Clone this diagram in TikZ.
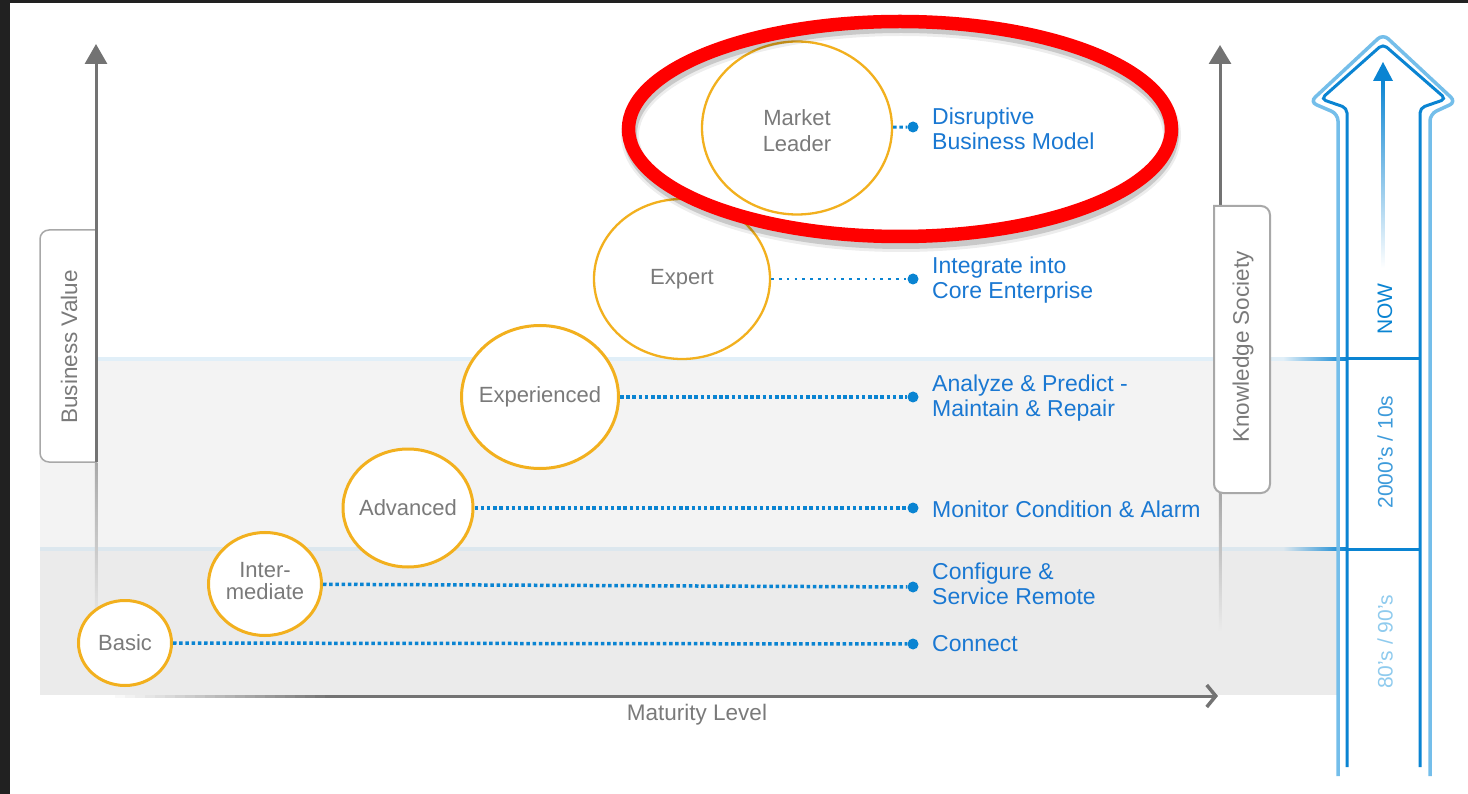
\documentclass[tikz,border=0pt]{standalone}
\usepackage{fontspec}
\setmainfont{Liberation Sans}
\usetikzlibrary{shapes.geometric,arrows.meta}
\definecolor{framec}{HTML}{212121}
\definecolor{axisgray}{HTML}{737373}
\definecolor{txtgray}{HTML}{7A7A7A}
\definecolor{boxgray}{HTML}{A8A8A8}
\definecolor{bandA}{HTML}{F3F3F3}
\definecolor{bandB}{HTML}{EBEBEB}
\definecolor{palebl}{HTML}{E1EFF8}
\definecolor{palegr}{HTML}{DCE7EE}
\definecolor{dkblue}{HTML}{0A84D2}
\definecolor{ltblue}{HTML}{74BEEA}
\definecolor{midblue}{HTML}{3D9BDB}
\definecolor{faintblue}{HTML}{8FCBEE}
\definecolor{lblblue}{HTML}{1A78D2}
\definecolor{orng}{HTML}{F2B01E}
\definecolor{redring}{HTML}{FF0000}
\begin{document}
\begin{tikzpicture}[x=1pt,y=-1pt,
  lvl/.style={ellipse,draw=orng,fill=white,line width=3pt,inner sep=0pt},
  lvltxt/.style={text=txtgray,font=\fontsize{22}{21.5}\selectfont,align=center,inner sep=0pt},
  lbl/.style={anchor=west,text=lblblue,font=\fontsize{23}{25}\selectfont,align=left,inner sep=0pt},
  enddot/.style={circle,fill=dkblue,inner sep=0pt,minimum size=11pt},
  dotline/.style={draw=dkblue,line width=3.5pt,dash pattern=on 3.5pt off 2.7pt},
  sparse/.style={draw=dkblue,line width=2.6pt,dash pattern=on 2.6pt off 5.2pt},
  grtxt/.style={text=txtgray,font=\fontsize{22.5}{25}\selectfont},
  arrtxt/.style={rotate=90,font=\fontsize{21}{21}\selectfont}]
\useasboundingbox (0,0) rectangle (1468,794);
\fill[white] (0,0) rectangle (1468,794);
% frame
\fill[framec] (0,0) rectangle (10,794);
\fill[framec] (0,0) rectangle (1468,3);
% bands
\fill[bandA] (40,360) rectangle (1337,548);
\fill[bandB] (40,548) rectangle (1337,695);
\draw[palebl,line width=3.5pt] (40,359) -- (1283,359);
\draw[palegr,line width=3.5pt] (40,549) -- (1283,549);
\shade[left color=palebl,right color=dkblue] (1283,357.2) rectangle (1347,360.8);
\shade[left color=palegr,right color=dkblue] (1283,547.2) rectangle (1347,550.8);
% left axis and box
\coordinate (bvtip) at (96,44);
\coordinate (bvtop) at (96,230);
\shade[top color=boxgray,bottom color=bandB] (94.8,462) rectangle (97.4,632);
\filldraw[fill=white,draw=boxgray,line width=1.5pt,rounded corners=9pt] (96,230) -- (40,230) -- (40,462) -- (96,462);
\draw[axisgray,line width=3pt] (96,462) -- (bvtop);
\draw[axisgray,line width=3pt,-{Triangle[length=20pt,width=22pt]}] (bvtop) -- (bvtip);
\node[grtxt,rotate=90] (bv) at (69,347) {Business Value};
% right axis and box
\coordinate (kstip) at (1220,45);
\coordinate (kstop) at (1220,206);
\shade[top color=boxgray,bottom color=bandB] (1218.8,493) rectangle (1221.4,632);
\draw[axisgray,line width=3pt,-{Triangle[length=19pt,width=22pt]}] (kstop) -- (kstip);
\filldraw[fill=white,draw=boxgray,line width=2pt,rounded corners=9pt] (1214,206) -- (1270,206) -- (1270,493) -- (1214,493) [sharp corners] -- cycle;
\node[grtxt,rotate=90] (ks) at (1243,347) {Knowledge Society};
% bottom axis
\coordinate (mlstart) at (330,696);
\coordinate (mltip) at (1218,696);
\foreach \i in {0,...,22} {
  \pgfmathsetmacro{\p}{100*\i/22}
  \draw[axisgray!\p!white,line width=3pt] (105+10*\i,696) -- (115.5+10*\i,696);
}
\draw[axisgray,line width=3pt,-{Straight Barb[length=9pt,width=22pt,line width=3.5pt]}] (mlstart) -- (mltip);
\node[grtxt] (ml) at (697,715) {Maturity Level};
% big time arrow
\draw[ltblue,line width=3.5pt,rounded corners=7pt] (1338,776) -- (1338,114) -- (1310,102) -- (1383,34) -- (1456,102) -- (1430,114) -- (1430,776);
\draw[dkblue,line width=3pt,rounded corners=5pt] (1347,767) -- (1347,108) -- (1321,99) -- (1383,44) -- (1446,99) -- (1420,108) -- (1420,767);
\draw[dkblue,line width=3pt] (1347,359) -- (1420,359);
\draw[dkblue,line width=3pt] (1347,549) -- (1420,549);
\shade[top color=dkblue,bottom color=white] (1381.5,78) rectangle (1384.5,268);
\fill[dkblue] (1383,62) -- (1393,81) -- (1373,81) -- cycle;
\node[arrtxt,text=dkblue] (now) at (1385,309) {NOW};
\node[arrtxt,text=midblue] (t2000) at (1385,452) {2000’s / 10s};
\node[arrtxt,text=faintblue] (t80) at (1385,642) {80’s / 90’s};
% levels
\node[lvl,minimum width=93pt,minimum height=85pt,label={[lvltxt]center:Basic}] (basic) at (125,643) {};
\node[lvl,minimum width=113pt,minimum height=103pt,label={[lvltxt,yshift=3pt]center:Inter-\\mediate}] (inter) at (265,584) {};
\node[lvl,minimum width=130pt,minimum height=118pt,label={[lvltxt]center:Advanced}] (adv) at (408,508) {};
\node[lvl,minimum width=157pt,minimum height=143pt,label={[lvltxt]center:Experienced}] (exper) at (540,397) {};
\node[lvl,line width=2.3pt,minimum width=176pt,minimum height=160pt,label={[lvltxt]center:Expert}] (expert) at (682,279) {};
\node[lvl,line width=2.3pt,minimum width=190pt,minimum height=173pt,label={[lvltxt,font=\fontsize{22}{26}\selectfont,yshift=-3pt]center:Market\\Leader}] (market) at (797,128) {};
% end dots
\node[enddot] (d1) at (913,644) {};
\node[enddot] (d2) at (913,587) {};
\node[enddot] (d3) at (913,508) {};
\node[enddot] (d4) at (913,397) {};
\node[enddot] (d5) at (913,279) {};
\node[enddot] (d6) at (913,127) {};
% connectors
\draw[dotline] (basic) -- (d1);
\draw[dotline] (inter) -- (d2);
\draw[dotline] (adv) -- (d3);
\draw[dotline] (exper) -- (d4);
\draw[sparse] (expert) -- (d5);
\draw[dotline,line width=3pt] (market) -- (d6);
% labels
\node[lbl] (l1) at (932,644) {Connect};
\node[lbl] (l2) at (932,584) {Configure \&\\Service Remote};
\node[lbl] (l3) at (932,509) {Monitor Condition \& Alarm};
\node[lbl] (l4) at (932,398) {Analyze \& Predict -\\Maintain \& Repair};
\node[lbl] (l5) at (932,280) {Integrate into\\Core Enterprise};
\node[lbl] (l6) at (932,129) {Disruptive\\Business Model};
% red highlight ring
\draw[black,opacity=0.07,line width=18pt] (901,135) ellipse [x radius=271, y radius=108];
\draw[black,opacity=0.15,line width=14pt] (901,134) ellipse [x radius=271, y radius=108];
\draw[redring,line width=13.5pt] (900,129) ellipse [x radius=271.5, y radius=107.5];
\end{tikzpicture}
\end{document}
